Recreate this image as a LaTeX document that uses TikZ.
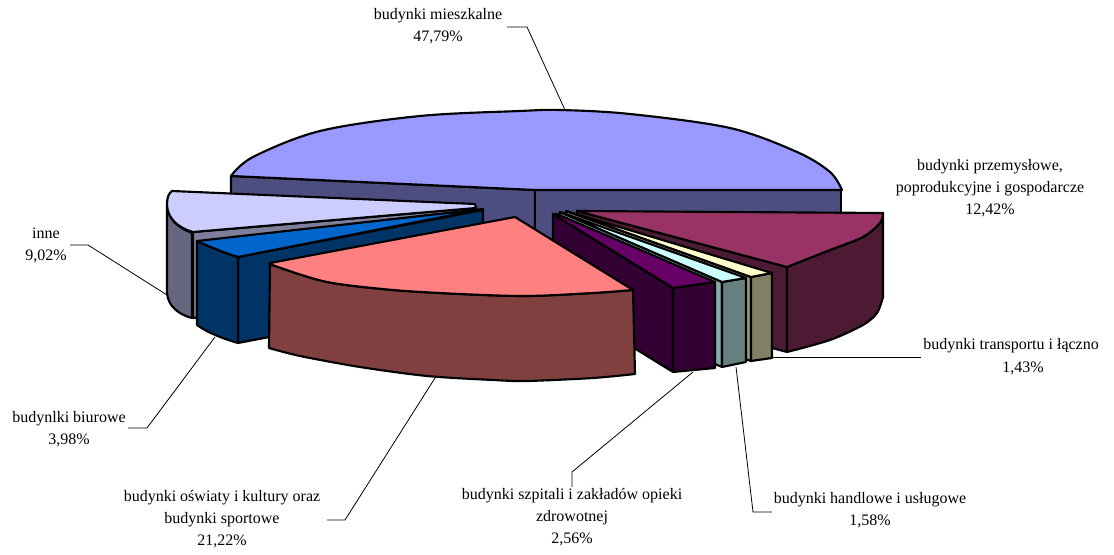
\documentclass[tikz,border=0pt]{standalone}
\usepackage{fontspec}
\setmainfont{Liberation Serif}
\definecolor{mainTop}{HTML}{9999FF}
\definecolor{mainSide}{HTML}{4D4D80}
\definecolor{marTop}{HTML}{993366}
\definecolor{marSide}{HTML}{4D1A33}
\definecolor{traTop}{HTML}{FFFFCC}
\definecolor{traSide}{HTML}{808066}
\definecolor{traCut}{HTML}{9E9E7A}
\definecolor{hanTop}{HTML}{CCFFFF}
\definecolor{hanSide}{HTML}{668080}
\definecolor{hanCut}{HTML}{88AAAA}
\definecolor{purTop}{HTML}{660066}
\definecolor{purSide}{HTML}{330033}
\definecolor{pinTop}{HTML}{FF8080}
\definecolor{pinSide}{HTML}{804040}
\definecolor{biuTop}{HTML}{0066CC}
\definecolor{biuSide}{HTML}{003366}
\definecolor{innTop}{HTML}{CCCCFF}
\definecolor{innSide}{HTML}{666680}
\definecolor{innCut}{HTML}{7E7E9A}
\tikzset{
  edge/.style={draw=black, line width=1.6pt, line join=round},
  lead/.style={draw=black, line width=0.6pt},
  lbl/.style={font=\fontsize{12}{16.5}\selectfont, align=center, inner sep=0pt},
}
\begin{document}
\begin{tikzpicture}[x=0.75pt,y=-0.75pt]
\useasboundingbox (0,0) rectangle (1114,555);

% ---- budynki mieszkalne (main slice)
\path[edge, fill=mainSide] (231,176) -- (535,190) -- (535,270) -- (231,256) -- cycle;
\path[edge, fill=mainSide] (535,190) -- (841,190) -- (841,270) -- (535,270) -- cycle;
\path[edge, fill=mainTop] plot[smooth, tension=0.55] coordinates {(231,176) (253,157) (320,131) (420,116) (520,111) (560,110) (630,114) (730,128) (797,152) (830,172) (842,190)} -- (535,190) -- cycle;

% ---- przemyslowe (maroon)
\path[edge, fill=marSide] (577,211) -- (787,267) -- (787,352) -- (577,296) -- cycle;
\path[edge, fill=marSide] plot[smooth] coordinates {(787,267) (830,250) (863,237) (880,223) (883,213)} -- (883,297) -- plot[smooth] coordinates {(883,297) (877,313) (863,325) (830,340) (787,352)} -- cycle;
\path[edge, fill=marTop] (577,211) -- (883,213) -- plot[smooth] coordinates {(883,213) (880,223) (863,237) (830,250) (787,267)} -- cycle;

% ---- inne
\path[edge, fill=innCut] (193,232) -- (476,208) -- (476,293) -- (193,318) -- cycle;
\path[edge, fill=innSide] (167,204) -- (167,293) .. controls (168,307) and (180,315) .. (192,318) -- (192,233) .. controls (178,228) and (167,218) .. (167,204) -- cycle;
\path[edge, fill=innTop] (172,191) -- (475,204) -- (476,208) -- (193,232) .. controls (178,228) and (167,218) .. (167,204) .. controls (167,197) and (169,193) .. (172,191) -- cycle;

% ---- transport
\path[edge, fill=traCut] (566,211) -- (751,277) -- (751,361) -- (566,296) -- cycle;
\path[edge, fill=traSide] (751,277) -- (772,273) -- (772,358) -- (751,361) -- cycle;
\path[edge, fill=traTop] (566,211) -- (772,273) -- (751,277) -- cycle;

% ---- handlowe
\path[edge, fill=hanCut] (560,212) -- (722,282) -- (722,367) -- (560,297) -- cycle;
\path[edge, fill=hanSide] (722,282) -- (746,278) -- (746,362) -- (722,367) -- cycle;
\path[edge, fill=hanTop] (560,212) -- (746,278) -- (722,282) -- cycle;

% ---- szpitale (purple)
\path[edge, fill=purSide] (553,214) -- (673,288) -- (673,372) -- (553,298) -- cycle;
\path[edge, fill=purSide] (673,288) -- (715,282) -- (715,368) -- (673,372) -- cycle;
\path[edge, fill=purTop] (553,214) -- (557,214) -- (715,282) -- (673,288) -- cycle;

% ---- biurowe
\path[edge, fill=biuSide] (238,257) -- (483,210) -- (483,296) -- (238,343) -- cycle;
\path[edge, fill=biuSide] (197,241) .. controls (210,247) and (225,253) .. (238,257) -- (238,343) .. controls (224,339) and (208,333) .. (197,325) -- cycle;
\path[edge, fill=biuTop] (197,241) -- (483,209) -- (238,257) .. controls (225,253) and (210,247) .. (197,241) -- cycle;

% ---- oswiaty (pink)
\path[edge, fill=pinSide] plot[smooth] coordinates {(270,263) (275,266) (327,282) (393,290) (460,294) (527,296) (593,293) (633,290)} -- (635,374) -- plot[smooth] coordinates {(635,374) (593,378) (527,381) (493,380) (427,376) (360,367) (300,356) (269,348)} -- cycle;
\path[edge, fill=pinTop] (270,263) -- (515,217) -- (633,290) -- plot[smooth] coordinates {(633,290) (593,293) (527,296) (460,294) (393,290) (327,282) (275,266) (270,263)} -- cycle;

% ---- labels
\node[lbl] (mie) at (438,26) {budynki mieszkalne\\47,79\%};
\node[lbl] (prz) at (990,188) {budynki przemysłowe,\\poprodukcyjne i gospodarcze\\12,42\%};
\node[lbl, anchor=west] (traA) at (923,346) {budynki transportu i łączno};
\node[lbl] (traB) at (1023,368) {1,43\%};
\node[lbl] (han) at (870,510) {budynki handlowe i usługowe\\1,58\%};
\node[lbl] (szp) at (572,517) {budynki szpitali i zakładów opieki\\zdrowotnej\\2,56\%};
\node[lbl] (osw) at (222,519) {budynki oświaty i kultury oraz\\budynki sportowe\\21,22\%};
\node[lbl] (biu) at (69,429) {budynlki biurowe\\3,98\%};
\node[lbl] (inn) at (46,245) {inne\\9,02\%};

% ---- leader lines
\coordinate (mieA) at (507,27);  \coordinate (mieB) at (527,27);  \coordinate (mieP) at (565,110);
\coordinate (innA) at (70,245);  \coordinate (innB) at (88,245);  \coordinate (innP) at (167,295);
\coordinate (biuA) at (128,428); \coordinate (biuB) at (147,428); \coordinate (biuP) at (215,337);
\coordinate (oswA) at (327,520); \coordinate (oswB) at (345,520); \coordinate (oswP) at (435,378);
\coordinate (szpA) at (572,487); \coordinate (szpB) at (572,472); \coordinate (szpP) at (693,372);
\coordinate (hanA) at (772,512); \coordinate (hanB) at (753,512); \coordinate (hanP) at (736,367);
\coordinate (traL) at (921,357); \coordinate (traP) at (772,357);
\draw[lead] (mieA) -- (mieB) -- (mieP);
\draw[lead] (innA) -- (innB) -- (innP);
\draw[lead] (biuA) -- (biuB) -- (biuP);
\draw[lead] (oswA) -- (oswB) -- (oswP);
\draw[lead] (szpA) -- (szpB) -- (szpP);
\draw[lead] (hanA) -- (hanB) -- (hanP);
\draw[lead] (traL) -- (traP);
\end{tikzpicture}
\end{document}
